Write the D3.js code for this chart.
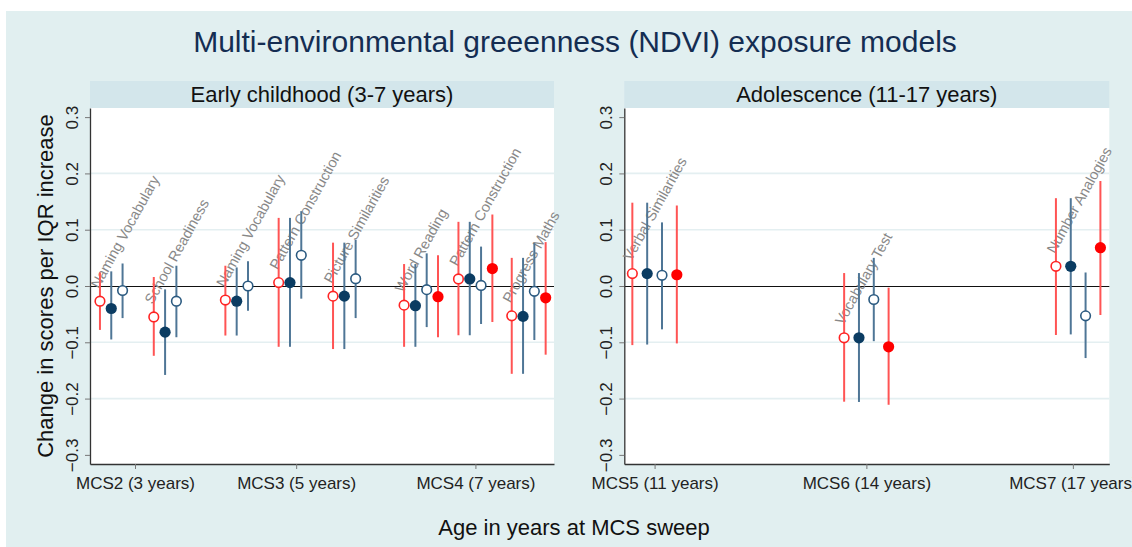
<!DOCTYPE html>
<html>
<head>
<meta charset="utf-8">
<script src="https://cdn.jsdelivr.net/npm/d3@7"></script>
<style>
    body { margin: 0; background: #fff; }
    svg text { font-family: "Liberation Sans", Arial, sans-serif; }
</style>
</head>
<body>
<div id="chart"></div>
<script>

// ---- data ----

var earlyTests = ["Naming Vocabulary", "School Readiness", "Naming Vocabulary", "Pattern Construction",
    "Picture Similarities", "Word Reading", "Pattern Construction", "Progress Maths"];
var earlySlots = [0.5, 1.5, 2.83, 3.82, 4.83, 6.15, 7.16, 8.15];
var earlyTickSlots = [0.836, 3.83, 7.16];
var earlyTickLabels = ["MCS2 (3 years)", "MCS3 (5 years)", "MCS4 (7 years)"];

// [estimate, lower, upper]
var earlyM1 = [[-0.027, -0.078, 0.024], [-0.055, -0.124, 0.016], [-0.025, -0.088, 0.036], [0.006, -0.108, 0.121],
    [-0.018, -0.112, 0.077], [-0.034, -0.108, 0.039], [0.0125, -0.0875, 0.114], [-0.053, -0.156, 0.050]];
var earlyM2 = [[-0.040, -0.095, 0.026], [-0.082, -0.158, -0.006], [-0.027, -0.088, 0.033], [0.006, -0.108, 0.121],
    [-0.018, -0.112, 0.077], [-0.035, -0.108, 0.039], [0.0125, -0.0875, 0.114], [-0.054, -0.156, 0.050]];
var earlyM3 = [[-0.008, -0.057, 0.040], [-0.027, -0.091, 0.036], [0.000, -0.044, 0.044], [0.0545, -0.0225, 0.133],
    [0.013, -0.057, 0.082], [-0.0065, -0.073, 0.058], [0.001, -0.0675, 0.070], [-0.0095, -0.096, 0.076]];
var earlyM4 = [null, null, null, null, null,
    [-0.019, -0.091, 0.0545], [0.031, -0.064, 0.127], [-0.021, -0.122, 0.078]];

var adolTests = ["Verbal Similarities", "Vocabulary Test", "Number Analogies"];
var adolSlots = [1, 2, 3];
var adolTickSlots = [1, 2, 2.975];
var adolTickLabels = ["MCS5 (11 years)", "MCS6 (14 years)", "MCS7 (17 years)"];

var adolM1 = [[0.022, -0.105, 0.148], [-0.092, -0.2055, 0.023], [0.035, -0.087, 0.156]];
var adolM2 = [[0.022, -0.104, 0.148], [-0.092, -0.206, 0.023], [0.035, -0.086, 0.156]];
var adolM3 = [[0.019, -0.077, 0.113], [-0.024, -0.098, 0.050], [-0.053, -0.128, 0.024]];
var adolM4 = [[0.020, -0.102, 0.143], [-0.108, -0.211, -0.003], [0.068, -0.0515, 0.1865]];

var yTicks = [-0.3, -0.2, -0.1, 0, 0.1, 0.2, 0.3];
var yGrid = [-0.2, -0.1, 0.1, 0.2];


// ---- look ----

var cfg = {
    width: 1132,
    height: 547,
    bg: "#e1eff0",
    strip: "#d3e6eb",
    grid: "#e4eff1",
    yDomain: [-0.3162, 0.3162],
    top: 108,
    bottom: 464
};

var modelStyle = [
    { line: "#ff5454", stroke: "#ff2424", fill: "#ffffff" },
    { line: "#4f7696", stroke: "#0b3c62", fill: "#0b3c62" },
    { line: "#4f7696", stroke: "#2b5a80", fill: "#ffffff" },
    { line: "#ff5454", stroke: "#ff0000", fill: "#ff0000" }
];


var Panel = function(svg, opts){
    this.svg = svg;
    this.opts = opts;

    this.x = d3.scaleLinear().domain(opts.domain).range([opts.left, opts.right]);
    this.y = d3.scaleLinear().domain(cfg.yDomain).range([cfg.bottom, cfg.top]);

    this._draw_frame();
    this._draw_axes();
    this._draw_labels();
    this._draw_models();
};

Panel.prototype._slotX = function(i, m){
    // four models side by side around the test position
    return this.x(this.opts.slots[i] + (m - 1.5) * this.opts.step);
};

Panel.prototype._draw_frame = function(){
    var o = this.opts, self = this;

    this.svg.append("rect")
        .attr("x", o.left).attr("y", 81)
        .attr("width", o.right - o.left).attr("height", cfg.top - 81)
        .style("fill", cfg.strip);

    this.svg.append("text")
        .attr("x", (o.left + o.right) / 2).attr("y", 102)
        .attr("text-anchor", "middle")
        .style("font-size", "22px").style("fill", "#111")
        .text(o.title);

    this.svg.append("rect")
        .attr("x", o.left).attr("y", cfg.top)
        .attr("width", o.right - o.left).attr("height", cfg.bottom - cfg.top)
        .style("fill", "#fff");

    this.svg.selectAll(null)
        .data(yGrid)
        .enter().append("line")
        .attr("x1", o.left).attr("x2", o.right)
        .attr("y1", function(d){ return self.y(d); })
        .attr("y2", function(d){ return self.y(d); })
        .style("stroke", cfg.grid).style("stroke-width", 1.6);

    // zero reference line, nudged half a pixel so it stays crisp
    this.svg.append("line")
        .attr("x1", o.left).attr("x2", o.right)
        .attr("y1", this.y(0) + 0.5).attr("y2", this.y(0) + 0.5)
        .style("stroke", "#111").style("stroke-width", 1);
};

Panel.prototype._draw_axes = function(){
    var o = this.opts;

    var yAxis = d3.axisLeft(this.y)
        .tickValues(yTicks)
        .tickSize(5).tickSizeOuter(0)
        .tickFormat(function(d){ return d3.format(".1f")(d).replace("-", "\u2212"); });

    var gy = this.svg.append("g")
        .attr("transform", "translate(" + o.left + ",0)")
        .call(yAxis);

    gy.selectAll("text")
        .attr("transform", "rotate(-90)")
        .attr("x", 0).attr("y", -12).attr("dy", 0)
        .attr("text-anchor", "middle")
        .style("font-size", "17px").style("fill", "#222");

    var xAxis = d3.axisBottom(this.x)
        .tickValues(o.tickSlots)
        .tickSize(5).tickSizeOuter(0)
        .tickFormat(function(d, i){ return o.tickLabels[i]; });

    var gx = this.svg.append("g")
        .attr("transform", "translate(0," + cfg.bottom + ")")
        .call(xAxis);

    gx.selectAll("text")
        .attr("y", 25).attr("dy", 0)
        .style("font-size", "17px").style("fill", "#222");

    [gx, gy].forEach(function(g){
        g.attr("font-family", null).attr("font-size", null);
        g.select(".domain").style("stroke", "#333").style("stroke-width", 1.3);
        g.selectAll(".tick line").style("stroke", "#777");
    });
};

Panel.prototype._draw_labels = function(){
    var self = this;
    var first = this.opts.models[0];

    this.svg.selectAll(null)
        .data(this.opts.tests)
        .enter().append("text")
        .attr("transform", function(d, i){
            var px = self._slotX(i, 0) - 1;
            var py = self.y(first[i][0]) - 12;
            return "translate(" + px + "," + py + ") rotate(-61)";
        })
        .style("font-size", "14.5px")
        .style("fill", "#888888")
        .text(function(d){ return d; });
};

Panel.prototype._draw_models = function(){
    var self = this;

    this.opts.models.forEach(function(rows, m){
        var st = modelStyle[m];
        var pts = rows.map(function(r, i){ return r ? { i: i, est: r[0], lo: r[1], hi: r[2] } : null; })
            .filter(function(d){ return d; });

        var g = self.svg.append("g");

        g.selectAll("line")
            .data(pts)
            .enter().append("line")
            .attr("x1", function(d){ return self._slotX(d.i, m); })
            .attr("x2", function(d){ return self._slotX(d.i, m); })
            .attr("y1", function(d){ return self.y(d.lo); })
            .attr("y2", function(d){ return self.y(d.hi); })
            .style("stroke", st.line).style("stroke-width", 2);

        g.selectAll("circle")
            .data(pts)
            .enter().append("circle")
            .attr("cx", function(d){ return self._slotX(d.i, m); })
            .attr("cy", function(d){ return self.y(d.est); })
            .attr("r", st.fill == "#ffffff" ? 4.8 : 5.6)
            .style("fill", st.fill)
            .style("stroke", st.stroke)
            .style("stroke-width", st.fill == "#ffffff" ? 1.6 : 0);
    });
};


// ---- build ----

var svg = d3.select("#chart").append("svg")
    .attr("width", cfg.width)
    .attr("height", cfg.height);

svg.append("rect")
    .attr("x", 6).attr("y", 11)
    .attr("width", cfg.width - 6).attr("height", cfg.height - 11)
    .style("fill", cfg.bg);

svg.append("text")
    .attr("x", 575).attr("y", 52)
    .attr("text-anchor", "middle")
    .style("font-size", "30px").style("fill", "#142d52")
    .text("Multi-environmental greeenness (NDVI) exposure models");

new Panel(svg, {
    title: "Early childhood (3-7 years)",
    left: 90, right: 554,
    domain: [0, 8.62],
    step: 0.21,
    tests: earlyTests,
    slots: earlySlots,
    tickSlots: earlyTickSlots,
    tickLabels: earlyTickLabels,
    models: [earlyM1, earlyM2, earlyM3, earlyM4]
});

new Panel(svg, {
    title: "Adolescence (11-17 years)",
    left: 624.3, right: 1109.3,
    domain: [0.857, 3.147],
    step: 0.07,
    tests: adolTests,
    slots: adolSlots,
    tickSlots: adolTickSlots,
    tickLabels: adolTickLabels,
    models: [adolM1, adolM2, adolM3, adolM4]
});

svg.append("text")
    .attr("transform", "translate(53,286) rotate(-90)")
    .attr("text-anchor", "middle")
    .style("font-size", "22px").style("fill", "#111")
    .text("Change in scores per IQR increase");

svg.append("text")
    .attr("x", 574).attr("y", 535)
    .attr("text-anchor", "middle")
    .style("font-size", "22px").style("fill", "#111")
    .text("Age in years at MCS sweep");

</script>
</body>
</html>
